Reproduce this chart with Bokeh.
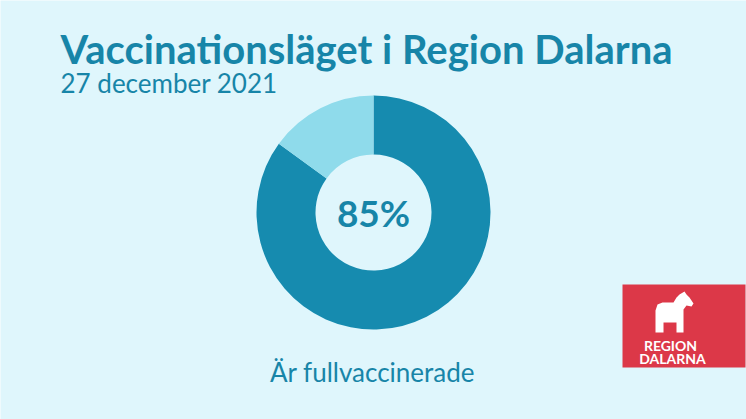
import math
from bokeh.plotting import figure
from bokeh.models import Range1d
from bokeh.core.properties import value
from bokeh.embed import file_html
from bokeh.resources import INLINE

# ---- data ----
categories = ["Fullvaccinerade", "Övriga"]
shares = [85, 15]
slice_colors = ["#168baf", "#8fdbeb"]
title_text = "Vaccinationsläget i Region Dalarna"
subtitle_text = "27 december 2021"
center_label = "85%"
caption_text = "Är fullvaccinerade"

BG = "#dff6fc"
TXT = "#1785a8"
W, H = 746, 419

def Y(y):
    return H - y

p = figure(width=W, height=H, output_backend="svg", toolbar_location=None,
           x_range=Range1d(0, W), y_range=Range1d(0, H),
           background_fill_color=BG, border_fill_color=BG, min_border=0)
p.axis.visible = False
p.grid.visible = False
p.outline_line_color = None

# donut
cx, cy = 373, Y(212)
total = sum(shares)
starts, ends = [], []
acc = 0.0
for s in shares:
    starts.append(math.pi / 2 - 2 * math.pi * (acc + s) / total)
    ends.append(math.pi / 2 - 2 * math.pi * acc / total)
    acc += s
p.annular_wedge(x=[cx] * len(shares), y=[cy] * len(shares), inner_radius=58, outer_radius=117,
                start_angle=starts, end_angle=ends, fill_color=slice_colors,
                line_color=None, direction="anticlock")

# texts
p.text(x=[60], y=[Y(48)], text=[title_text], text_font=value("Lato"), text_font_style="bold",
       text_font_size="40px", text_color=TXT, text_baseline="alphabetic")
p.text(x=[60], y=[Y(82)], text=[subtitle_text], text_font=value("Lato"),
       text_font_size="26px", text_color=TXT, text_baseline="alphabetic")
p.text(x=[cx], y=[cy], text=[center_label], text_font=value("Lato"), text_font_style="bold",
       text_font_size="37px", text_color=TXT, text_align="center", text_baseline="middle")
p.text(x=[372], y=[Y(371)], text=[caption_text], text_font=value("Lato"),
       text_font_size="26px", text_color=TXT, text_align="center", text_baseline="alphabetic")

# logo
p.quad(left=[622], right=[745], top=[Y(284)], bottom=[Y(367)], fill_color="#dc3848", line_color=None)
horse_x = [655, 657, 662, 673, 676, 679, 684, 686, 689, 693, 691, 686, 683, 683, 676, 676,
           663, 663, 655, 655]
horse_y = [310, 304, 302, 302, 297, 294, 291, 294, 297, 303, 306, 305, 309, 332, 332, 322,
           322, 332, 332, 310]
p.patch(x=horse_x, y=[Y(v) for v in horse_y], fill_color="white", line_color=None)
p.text(x=[670, 672], y=[Y(345), Y(358)], text=["REGION", "DALARNA"], text_font=value("Lato"),
       text_font_style="bold", text_font_size="14px", text_color="white",
       text_align="center", text_baseline="alphabetic")

open("out.html", "w").write(file_html(p, INLINE))
